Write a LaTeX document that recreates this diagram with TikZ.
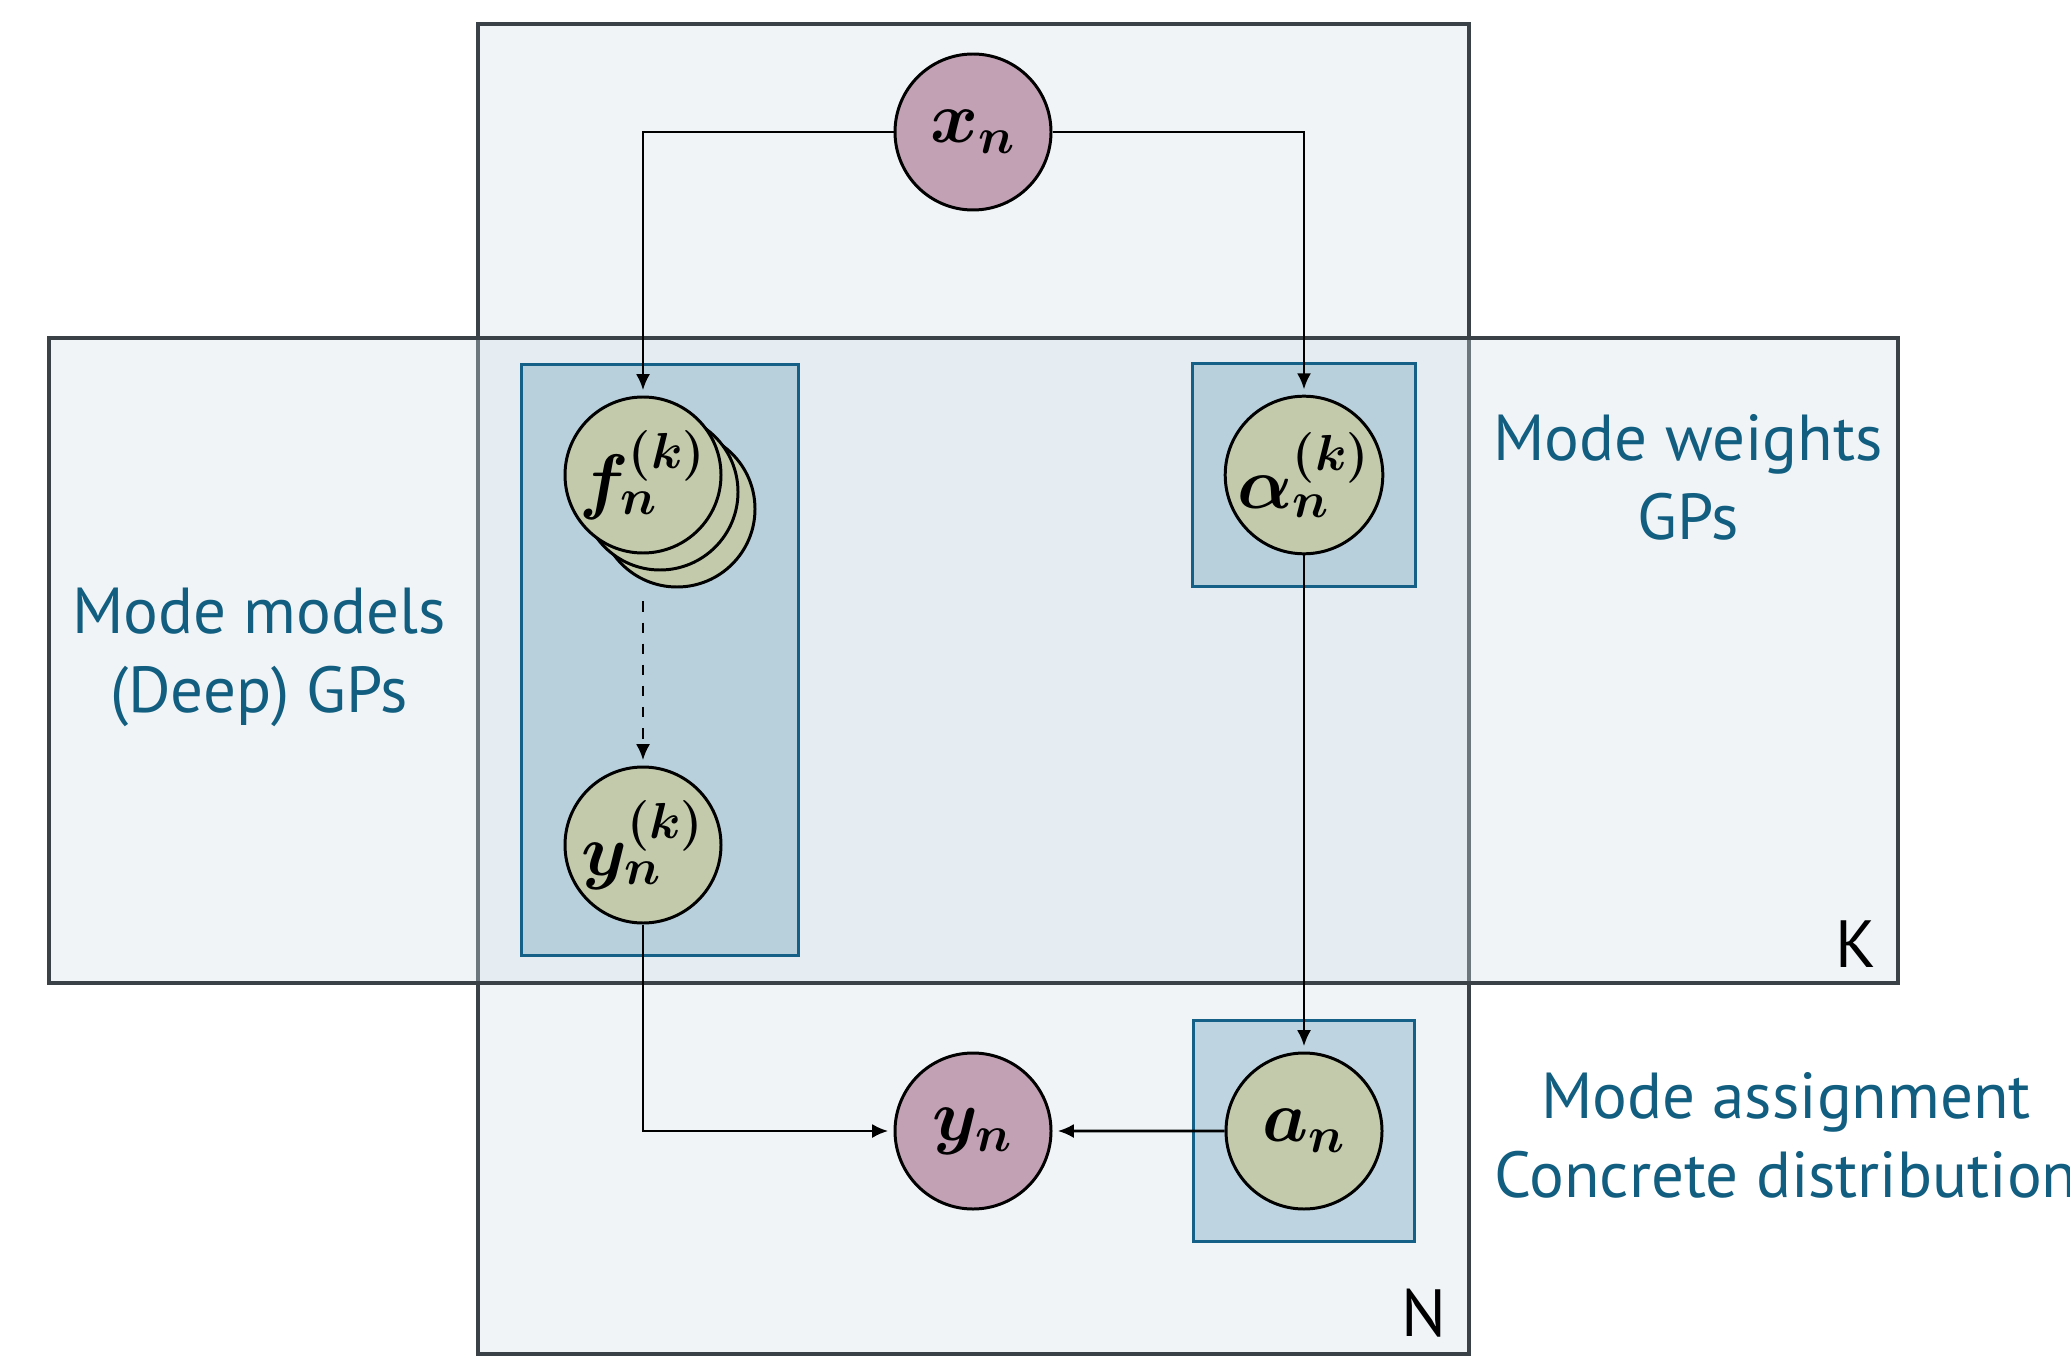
\documentclass[tikz,border=0pt]{standalone}
\usepackage{amsmath}
\usepackage{bm}
\usepackage{fontspec}
\setmainfont{PT Sans}
\usetikzlibrary{arrows.meta, positioning, fit, backgrounds, shadows}

\definecolor{platefill}{RGB}{210,222,231}
\definecolor{plateline}{RGB}{58,66,72}
\definecolor{boxfill}{RGB}{77,143,173}
\definecolor{boxline}{RGB}{20,96,135}
\definecolor{obsfill}{RGB}{195,161,181}
\definecolor{latfill}{RGB}{194,202,171}
\definecolor{labtext}{RGB}{18,94,128}

\begin{document}
\begin{tikzpicture}[
    node distance=1cm,
    obs/.style={circle, draw, line width=0.85pt, fill=obsfill, minimum size=1.56cm, inner sep=0pt,
        font=\fontsize{20.5}{24}\selectfont},
    latent/.style={circle, draw, line width=0.85pt, fill=latfill, minimum size=1.56cm, inner sep=0pt,
        font=\fontsize{20.5}{24}\selectfont},
    plate/.style={draw=plateline, line width=0.9pt, fill=platefill, fill opacity=0.333},
    gpbox/.style={rectangle, draw=boxline, line width=0.9pt, fill=boxfill, fill opacity=0.3},
    platelabel/.style={font=\fontsize{19}{22}\selectfont, text=black},
    grouplabel/.style={align=center, text=labtext, font=\fontsize{18.5}{22.5}\selectfont},
    arrow/.style={-{Latex[length=1.6mm, width=1.4mm]}, line width=0.75pt, shorten >=1.5pt},
    dashedarrow/.style={-{Latex[length=1.6mm, width=1.4mm]}, line width=0.75pt, dashed, shorten >=1.5pt}
]

\useasboundingbox (0,0) rectangle (20.7,-13.6);

% Observed input
\node[obs] (xn) at (9.73,-1.32) {$\bm{x_n}$};

% Mode models
\node[latent, on grid, below left=3.43cm and 3.3cm of xn,
    double copy shadow={shadow xshift=0.17cm, shadow yshift=-0.17cm}] (fk) {$\bm{f_n^{(k)}}$};
\node[latent, on grid, below=3.7cm of fk] (yk) {$\bm{y_n^{(k)}}$};

% Mode weights
\node[latent, on grid, right=6.61cm of fk] (alpha) {$\bm{\alpha_n^{(k)}}$};

% Assignment and output
\node[latent, on grid, below=6.56cm of alpha] (an) {$\bm{a_n}$};
\node[obs, on grid, below=9.99cm of xn] (yn) {$\bm{y_n}$};

% Plates and boxes
\begin{scope}[on background layer]
    \draw[plate] (4.78,-0.24) rectangle (14.69,-13.54);
    \draw[plate] (0.49,-3.38) rectangle (18.98,-9.83);
    \node[gpbox, fit=(fk)(yk), inner xsep=0.59cm, inner ysep=0.31cm, xshift=0.17cm] (fbox) {};
    \node[gpbox, fit=(alpha), inner sep=0.31cm] (abox) {};
    \node[gpbox, fit=(an), inner sep=0.31cm] (anbox) {};
\end{scope}
\node[platelabel] (klab) at (18.56,-9.44) {K};
\node[platelabel] (nlab) at (14.24,-13.13) {N};

% Arrows
\draw[arrow] (xn) -| (fk);
\draw[arrow] (xn) -| (alpha);
\draw[dashedarrow, shorten <=0.47cm] (fk) -- (yk);
\draw[arrow] (alpha) -- (an);
\draw[arrow] (yk) |- (yn);
\draw[arrow] (an) -- (yn);

% Annotations
\node[grouplabel] (mlab) at (2.59,-6.57) {Mode models\\(Deep) GPs};
\node[grouplabel] (wlab) at (16.88,-4.77) {Mode weights\\GPs};
\node[grouplabel] (alab) at (17.86,-11.35) {Mode assignment\\Concrete distribution};

\end{tikzpicture}
\end{document}
